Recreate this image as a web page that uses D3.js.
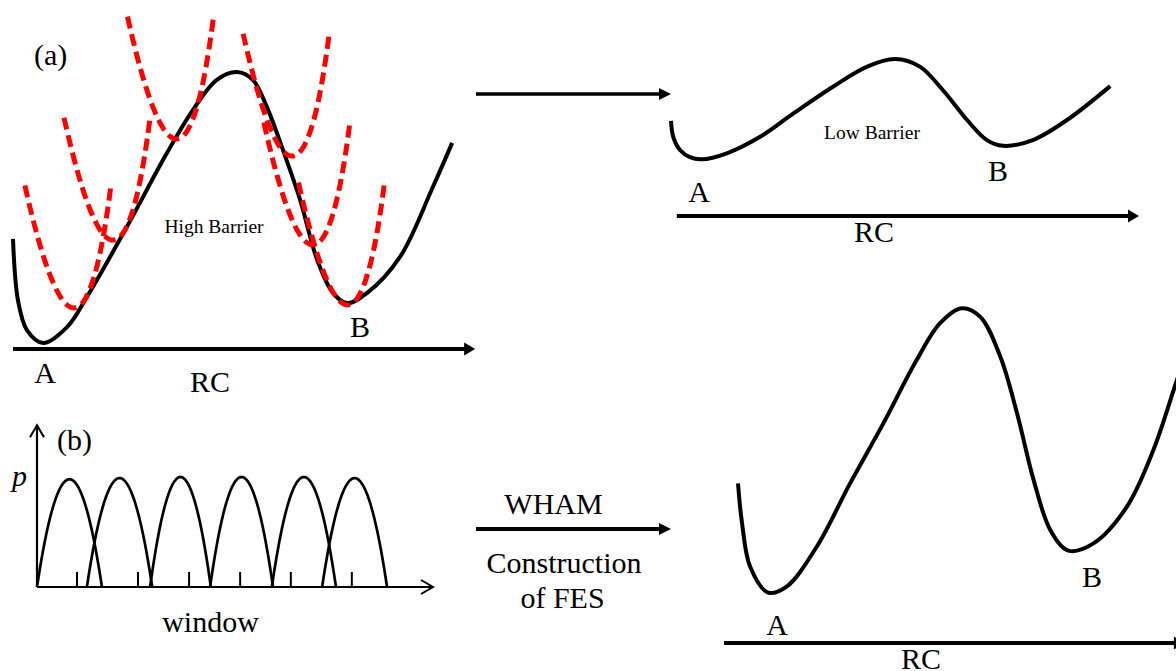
<!DOCTYPE html>
<html><head><meta charset="utf-8">
<script src="https://cdn.jsdelivr.net/npm/d3@7"></script>
<style>
body{margin:0;background:#fff}
svg{display:block}
</style>
</head><body>
<svg id="c" width="1176" height="671"></svg>
<script>
// ---------- Panel (a): high-barrier free energy along RC ----------
const highRC = [0.0, 0.11, 0.31, 0.67, 1.2, 1.64, 2.53, 3.42, 4.0, 4.53, 4.98, 5.33, 5.64, 6.0, 6.38, 6.76, 7.11, 7.42, 7.87, 8.6, 9.33, 9.76];
const highFE = [3.67, 1.63, 0.63, 0.2, 0.73, 1.73, 4.07, 6.53, 7.97, 8.97, 9.23, 8.97, 8.07, 6.63, 4.97, 2.97, 1.87, 1.53, 1.87, 3.07, 5.4, 6.87];
// umbrella (harmonic bias) windows
const windowCenter = [1.22, 2.09, 3.50, 6.07, 6.53, 7.30];
const windowMinFE  = [1.37, 3.63, 7.00, 6.43, 3.47, 1.47];
const springHalfWidth = 0.956;
const springRise = 4.08;
const springSkew = 0.133;

// ---------- Panel (b): window histograms ----------
const histStart = [0, 1.26, 2.855, 4.37, 5.93, 7.2];
const histEnd   = [1.64, 2.91, 4.39, 5.96, 7.55, 8.84];
const histPeak  = [0.98, 0.99, 1.0, 1.0, 1.0, 0.99];
const windowTicks = [1.01, 2.55, 3.84, 5.13, 6.41, 7.95];

// ---------- Top right: low-barrier (biased) FES ----------
const lowRC = [0, 0.05, 0.2, 0.42, 0.68, 1.24, 1.98, 2.72, 3.6, 4.36, 4.98, 5.53, 6.04, 6.58, 7.02, 7.38, 8.04, 8.8, 9.76];
const lowFE = [3.17, 2.64, 2.2, 1.96, 1.89, 2.09, 2.64, 3.42, 4.31, 4.98, 5.23, 4.98, 4.2, 3.2, 2.53, 2.34, 2.53, 3.2, 4.33];

// ---------- Bottom right: reconstructed FES (WHAM) ----------
const fesRC = [0, 0.09, 0.27, 0.67, 1.08, 1.75, 2.49, 3.23, 3.97, 4.49, 4.97, 5.38, 5.83, 6.2, 6.57, 6.94, 7.34, 7.9, 8.64, 9.23, 9.73, 9.98];
const fesFE = [5.32, 3.99, 2.54, 1.68, 1.88, 3.21, 5.32, 7.32, 9.43, 10.66, 11.16, 10.88, 9.54, 7.66, 5.43, 3.77, 3.08, 3.32, 4.54, 6.43, 8.66, 9.8];

const FONT = "'Liberation Serif', 'Times New Roman', Times, 'DejaVu Serif', serif";
const svg = d3.select("#c");

function arrowH(g, x1, x2, y, w, headLen, headHalf) {
  g.append("line").attr("x1", x1).attr("x2", x2 - headLen + 1).attr("y1", y).attr("y2", y)
    .attr("stroke", "#000").attr("stroke-width", w);
  g.append("path").attr("d", `M${x2},${y}L${x2 - headLen},${y - headHalf}L${x2 - headLen},${y + headHalf}Z`)
    .attr("fill", "#000");
}
function label(x, y, t, size, anchor, italic) {
  svg.append("text").attr("x", x).attr("y", y).attr("font-size", size)
    .attr("font-family", FONT).attr("fill", "#000")
    .attr("text-anchor", anchor || "middle").attr("font-style", italic ? "italic" : "normal").text(t);
}

// ===== Panel (a) =====
const xA = d3.scaleLinear().domain([0, 10]).range([13, 463]);
const yA = d3.scaleLinear().domain([0, 10]).range([349, 49]);
const lineA = d3.line().x(d => xA(d[0])).y(d => yA(d[1])).curve(d3.curveCatmullRom.alpha(0.5));
const gA = svg.append("g");
arrowH(gA, xA(0), xA(10.27), yA(0), 4, 11, 6.5);
gA.append("path").datum(d3.zip(highRC, highFE)).attr("d", lineA)
  .attr("fill", "none").attr("stroke", "#000").attr("stroke-width", 4);
const uSamples = d3.range(-1, 1.0001, 0.05);
windowCenter.forEach((c, i) => {
  const pts = uSamples.map(u => [c + springHalfWidth * u + springSkew * (1 - u * u), windowMinFE[i] + springRise * u * u]);
  gA.append("path").datum(pts)
    .attr("d", d3.line().x(d => xA(d[0])).y(d => yA(d[1])).curve(d3.curveCatmullRom))
    .attr("fill", "none").attr("stroke", "#ff0000").attr("stroke-width", 5)
    .attr("stroke-dasharray", "12,6");
});
label(34, 65, "(a)", 30, "start");
label(214, 233, "High Barrier", 19.5);
label(45, 383, "A", 30);
label(360, 337, "B", 30);
label(210, 392, "RC", 30);

// ===== Panel (b) =====
const xB = d3.scaleLinear().domain([0, 10]).range([37, 433]);
const yB = d3.scaleLinear().domain([0, 1]).range([587, 477]);
const gB = svg.append("g");
gB.append("line").attr("x1", xB(0)).attr("x2", xB(10)).attr("y1", yB(0)).attr("y2", yB(0))
  .attr("stroke", "#000").attr("stroke-width", 2.2);
gB.append("line").attr("x1", xB(0)).attr("x2", xB(0)).attr("y1", yB(0)).attr("y2", yB(1.47))
  .attr("stroke", "#000").attr("stroke-width", 2.2);
gB.append("path").attr("d", `M${xB(10) - 12},${yB(0) - 7}L${xB(10)},${yB(0)}L${xB(10) - 12},${yB(0) + 7}`)
  .attr("fill", "none").attr("stroke", "#000").attr("stroke-width", 2);
gB.append("path").attr("d", `M${xB(0) - 7},${yB(1.47) + 12}L${xB(0)},${yB(1.47)}L${xB(0) + 7},${yB(1.47) + 12}`)
  .attr("fill", "none").attr("stroke", "#000").attr("stroke-width", 2);
gB.selectAll(".tick").data(windowTicks).enter().append("line")
  .attr("x1", d => xB(d)).attr("x2", d => xB(d)).attr("y1", yB(0)).attr("y2", yB(0) - 15)
  .attr("stroke", "#000").attr("stroke-width", 2);
const lineB = d3.line().x(d => xB(d[0])).y(d => yB(d[1]));
histStart.forEach((s, i) => {
  const e = histEnd[i], m = (s + e) / 2, h = (e - s) / 2;
  const pts = d3.range(0, 1.0001, 0.02).map(t => {
    const x = s + t * (e - s);
    return [x, histPeak[i] * (1 - ((x - m) / h) ** 2)];
  });
  gB.append("path").datum(pts).attr("d", lineB)
    .attr("fill", "none").attr("stroke", "#000").attr("stroke-width", 2.7);
});
label(57, 450, "(b)", 30, "start");
label(12, 486, "p", 30, "start", true);
label(210.5, 632, "window", 30);

// ===== Middle arrows =====
const gM = svg.append("g");
arrowH(gM, 476, 671, 94, 3.5, 12, 6);
arrowH(gM, 476, 671, 529, 4, 12, 6);
label(553.5, 514, "WHAM", 30);
label(564, 573, "Construction", 30);
label(562.5, 608, "of FES", 30);

// ===== Top right: low barrier =====
const xL = d3.scaleLinear().domain([0, 10]).range([671, 1121]);
const yL = d3.scaleLinear().domain([0, 10]).range([216, -84]);
const gL = svg.append("g");
arrowH(gL, xL(0.13), xL(10.4), yL(0), 4, 11, 6.5);
gL.append("path").datum(d3.zip(lowRC, lowFE))
  .attr("d", d3.line().x(d => xL(d[0])).y(d => yL(d[1])).curve(d3.curveCatmullRom.alpha(0.5)))
  .attr("fill", "none").attr("stroke", "#000").attr("stroke-width", 4);
label(872, 139, "Low Barrier", 19.5);
label(699, 202, "A", 30);
label(998, 181, "B", 30);
label(874, 242, "RC", 30);

// ===== Bottom right: reconstructed FES =====
const xR = d3.scaleLinear().domain([0, 10]).range([738, 1188]);
const yR = d3.scaleLinear().domain([0, 10]).range([643, 343]);
const gR = svg.append("g");
arrowH(gR, xR(-0.31), xR(9.93), yR(0), 4, 11, 6.5);
gR.append("path").datum(d3.zip(fesRC, fesFE))
  .attr("d", d3.line().x(d => xR(d[0])).y(d => yR(d[1])).curve(d3.curveCatmullRom.alpha(0.5)))
  .attr("fill", "none").attr("stroke", "#000").attr("stroke-width", 4);
label(777, 635, "A", 30);
label(1092, 587, "B", 30);
label(921, 669, "RC", 30);
</script>
</body></html>
